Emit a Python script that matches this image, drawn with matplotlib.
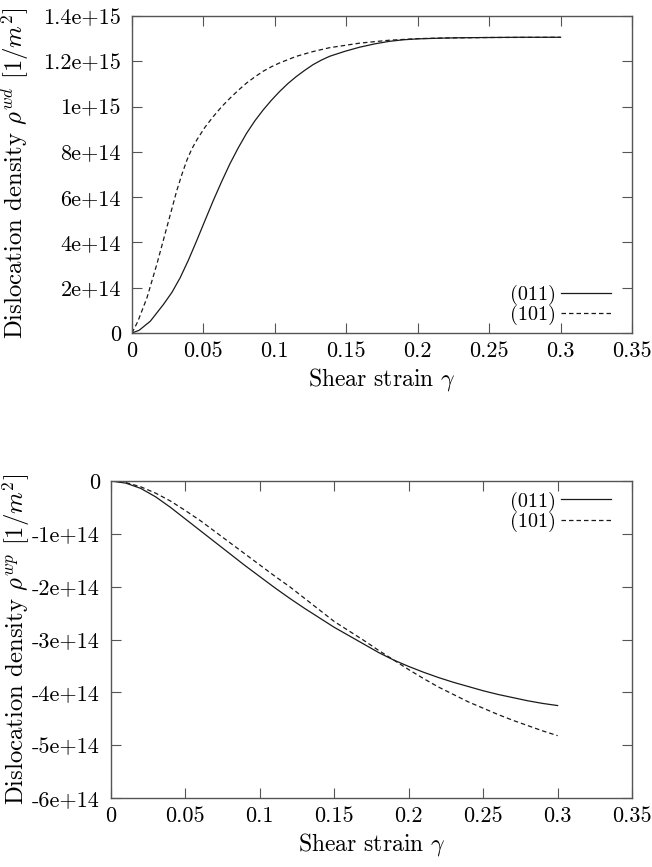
import matplotlib
matplotlib.use("Agg")
import matplotlib.pyplot as plt

plt.rcParams['font.family'] = ['cmr10', 'DejaVu Serif']
plt.rcParams['mathtext.fontset'] = 'cm'
plt.rcParams['axes.unicode_minus'] = False

# top panel: rho^wd, (011) solid and (101) dashed
x_wd_011 = [0.0, 0.005, 0.0128, 0.022, 0.028, 0.0337, 0.0395, 0.0453, 0.0511, 0.0569, 0.0627, 0.0686,
            0.0744, 0.0802, 0.086, 0.0918, 0.0976, 0.1034, 0.1092, 0.1151, 0.1209, 0.1267, 0.1325, 0.1383,
            0.149, 0.1592, 0.17, 0.18, 0.19, 0.2, 0.215, 0.23, 0.25, 0.27, 0.3]
y_wd_011 = [0.0, 0.012e15, 0.052e15, 0.126e15, 0.18e15, 0.244e15, 0.322e15, 0.408e15, 0.497e15, 0.585e15,
            0.668e15, 0.748e15, 0.818e15, 0.882e15, 0.937e15, 0.985e15, 1.028e15, 1.067e15, 1.102e15,
            1.133e15, 1.160e15, 1.185e15, 1.205e15, 1.222e15, 1.244e15, 1.262e15, 1.277e15, 1.288e15,
            1.295e15, 1.299e15, 1.302e15, 1.304e15, 1.305e15, 1.306e15, 1.306e15]

x_wd_101 = [0.0, 0.004, 0.0105, 0.0174, 0.0244, 0.0314, 0.0349, 0.0384, 0.0418, 0.0453, 0.0511, 0.0569,
            0.0627, 0.0686, 0.0744, 0.0802, 0.086, 0.0918, 0.0976, 0.1034, 0.1151, 0.1267, 0.1383, 0.1592,
            0.18, 0.2, 0.22, 0.25, 0.3]
y_wd_101 = [0.0, 0.05e15, 0.156e15, 0.304e15, 0.467e15, 0.630e15, 0.700e15, 0.763e15, 0.812e15, 0.852e15,
            0.909e15, 0.956e15, 0.999e15, 1.037e15, 1.072e15, 1.104e15, 1.131e15, 1.156e15, 1.176e15,
            1.193e15, 1.222e15, 1.243e15, 1.260e15, 1.280e15, 1.293e15, 1.300e15, 1.303e15, 1.305e15, 1.306e15]

# bottom panel: rho^wp
x_wp = [0.0, 0.01, 0.02, 0.03, 0.04, 0.05, 0.06, 0.07, 0.08, 0.09, 0.10, 0.11, 0.12, 0.13, 0.14, 0.15,
        0.16, 0.17, 0.18, 0.19, 0.20, 0.21, 0.22, 0.23, 0.24, 0.25, 0.26, 0.27, 0.28, 0.29, 0.30]
y_wp_011 = [0.0, -0.04e14, -0.14e14, -0.30e14, -0.50e14, -0.72e14, -0.94e14, -1.16e14, -1.38e14, -1.60e14,
            -1.81e14, -2.02e14, -2.22e14, -2.41e14, -2.59e14, -2.77e14, -2.93e14, -3.09e14, -3.25e14,
            -3.39e14, -3.51e14, -3.62e14, -3.72e14, -3.81e14, -3.89e14, -3.97e14, -4.04e14, -4.10e14,
            -4.16e14, -4.21e14, -4.25e14]
y_wp_101 = [0.0, -0.03e14, -0.11e14, -0.23e14, -0.38e14, -0.56e14, -0.75e14, -0.96e14, -1.17e14, -1.38e14,
            -1.59e14, -1.80e14, -2.00e14, -2.22e14, -2.44e14, -2.66e14, -2.84e14, -3.02e14, -3.21e14,
            -3.39e14, -3.57e14, -3.74e14, -3.90e14, -4.04e14, -4.18e14, -4.30e14, -4.42e14, -4.53e14,
            -4.63e14, -4.73e14, -4.82e14]

x_ticks = [0, 0.05, 0.1, 0.15, 0.2, 0.25, 0.3, 0.35]
x_ticklabels = ['0', '0.05', '0.1', '0.15', '0.2', '0.25', '0.3', '0.35']
y_ticks_wd = [0, 2e14, 4e14, 6e14, 8e14, 1e15, 1.2e15, 1.4e15]
y_ticklabels_wd = ['0', '2e+14', '4e+14', '6e+14', '8e+14', '1e+15', '1.2e+15', '1.4e+15']
y_ticks_wp = [0, -1e14, -2e14, -3e14, -4e14, -5e14, -6e14]
y_ticklabels_wp = ['0', '-1e+14', '-2e+14', '-3e+14', '-4e+14', '-5e+14', '-6e+14']

FS = 16
LC = '#1a1a1a'
SC = '#555555'


def style_axes(ax, yticks, yticklabels, ylim):
    ax.set_xlim(0, 0.35)
    ax.set_ylim(*ylim)
    ax.set_xticks(x_ticks)
    ax.set_xticklabels(x_ticklabels)
    ax.set_yticks(yticks)
    ax.set_yticklabels(yticklabels)
    ax.tick_params(direction='in', top=True, right=True, length=7, width=0.8,
                   color=SC, labelsize=FS)
    ax.tick_params(axis='y', pad=8)
    ax.tick_params(axis='x', pad=6)
    for s in ax.spines.values():
        s.set_color(SC)
        s.set_linewidth(1.0)
    ax.set_xlabel(r'Shear strain $\gamma$', fontsize=17, labelpad=4)


fig = plt.figure(figsize=(6.52, 8.67), dpi=100)

ax1 = fig.add_axes([132 / 652, 1 - 333 / 867, 500 / 652, 317 / 867])
ax1.plot(x_wd_011, y_wd_011, color=LC, lw=0.9, label='(011)')
ax1.plot(x_wd_101, y_wd_101, color=LC, lw=0.9, dashes=(3.6, 2.4), label='(101)')
style_axes(ax1, y_ticks_wd, y_ticklabels_wd, (0, 1.4e15))
ax1.set_ylabel(r'Dislocation density $\rho^{wd}$ $[1/m^2]$', fontsize=17.8)
ax1.yaxis.set_label_coords(-0.2, 0.505)
ax1.legend(loc='lower right', bbox_to_anchor=(0.958, 0.024), markerfirst=False, frameon=False,
           fontsize=14.5, handlelength=2.5, handletextpad=0.25, labelspacing=0.0,
           borderpad=0, borderaxespad=0)

ax2 = fig.add_axes([111 / 652, 1 - 798 / 867, 521 / 652, 317 / 867])
ax2.plot(x_wp, y_wp_011, color=LC, lw=0.9, label='(011)')
ax2.plot(x_wp, y_wp_101, color=LC, lw=0.9, dashes=(3.6, 2.4), label='(101)')
style_axes(ax2, y_ticks_wp, y_ticklabels_wp, (-6e14, 0))
ax2.set_ylabel(r'Dislocation density $\rho^{wp}$ $[1/m^2]$', fontsize=17.8)
ax2.yaxis.set_label_coords(-0.152, 0.5)
ax2.legend(loc='upper right', bbox_to_anchor=(0.96, 0.967), markerfirst=False, frameon=False,
           fontsize=14.5, handlelength=2.5, handletextpad=0.25, labelspacing=0.0,
           borderpad=0, borderaxespad=0)

fig.savefig('out.png', dpi=100)
